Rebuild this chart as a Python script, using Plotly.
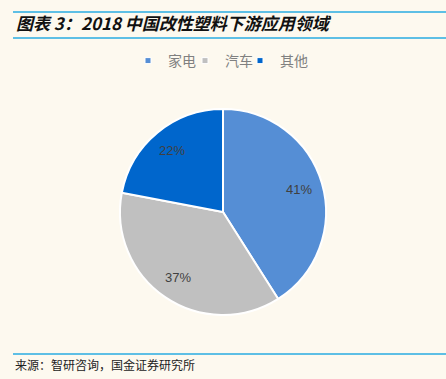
import math
import plotly.graph_objects as go

categories = ["家电", "汽车", "其他"]
values = [41, 37, 22]
colors = ["#558ED5", "#C0C0C0", "#0066CC"]

title_text = "图表 3：2018 中国改性塑料下游应用领域"
source_text = "来源：智研咨询，国金证券研究所"

W, H = 446, 379
bg = "#FDF9EF"
line_col = "#29ABE2"

# pie geometry (pixels from top-left)
CX, CY, R = 223, 212, 103
legend_marker_px = [149, 206, 261]

def py(px):
    return 1 - px / H

fig = go.Figure()
fig.add_trace(go.Pie(
    labels=categories, values=values, sort=False, direction="clockwise", rotation=0,
    marker=dict(colors=colors, line=dict(color="white", width=2)),
    textinfo="none", showlegend=False,
    domain=dict(x=[(CX - R) / W, (CX + R) / W], y=[py(CY + R), py(CY - R)]),
    hoverinfo="label+percent",
))

legend_layouts = {}
for i, (name, col) in enumerate(zip(categories, colors)):
    lname = "legend" if i == 0 else f"legend{i + 1}"
    fig.add_trace(go.Scatter(
        x=[None], y=[None], mode="markers", name=name, legend=lname,
        marker=dict(symbol="square", size=6, color=col, line=dict(color="white", width=1)),
        showlegend=True,
    ))
    legend_layouts[lname] = dict(
        orientation="h", x=(legend_marker_px[i] - 21) / W, xanchor="left",
        y=py(61), yanchor="middle", itemwidth=30,
        font=dict(family="Noto Sans CJK SC", size=14, color="#808080"),
        bgcolor="rgba(0,0,0,0)")

total = sum(values)
annotations = []
cum = 0
for v in values:
    mid = (cum + v / 2) / total
    ang = math.radians(90 - 360 * mid)
    lx = CX + 0.77 * R * math.cos(ang)
    ly = CY - 0.77 * R * math.sin(ang)
    annotations.append(dict(
        text=f"{round(100 * v / total)}%", xref="paper", yref="paper",
        x=lx / W, y=py(ly), xanchor="center", yanchor="middle", showarrow=False,
        font=dict(family="Liberation Sans, Arial", size=13, color="#404040")))
    cum += v

annotations += [
    dict(text="<b><i>" + title_text + "</i></b>", xref="paper", yref="paper",
         x=14 / W, y=py(23), xanchor="left", yanchor="middle", showarrow=False,
         font=dict(family="Noto Sans CJK SC", size=17, color="#111111")),
    dict(text=source_text, xref="paper", yref="paper",
         x=13 / W, y=py(364), xanchor="left", yanchor="middle", showarrow=False,
         font=dict(family="Noto Sans CJK SC", size=12, color="#222222")),
]

shapes = []
for yy in (12, 38, 354):
    shapes.append(dict(type="line", xref="paper", yref="paper", x0=13 / W, x1=1.0,
                       y0=py(yy), y1=py(yy), line=dict(color=line_col, width=1.5)))

fig.update_layout(
    width=W, height=H, margin=dict(l=0, r=0, t=0, b=0),
    paper_bgcolor=bg, plot_bgcolor=bg,
    xaxis=dict(visible=False), yaxis=dict(visible=False),
    shapes=shapes, annotations=annotations,
    showlegend=True,
    **legend_layouts,
)

fig.write_html("out.html", config={"displayModeBar": False},
               post_script="document.body.style.margin='0';document.body.style.overflow='hidden';")
